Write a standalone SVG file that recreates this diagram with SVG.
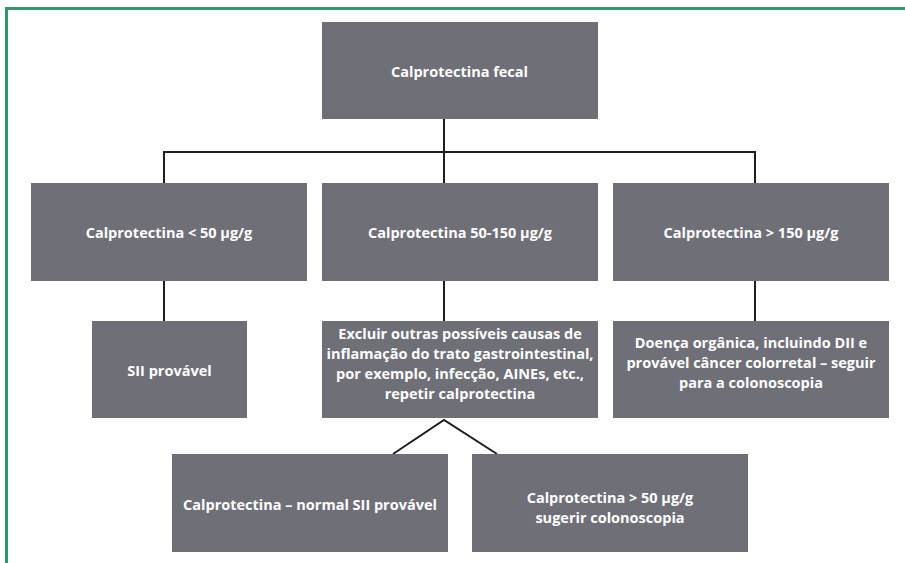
<svg xmlns="http://www.w3.org/2000/svg" width="905" height="563" viewBox="0 0 905 563">
<style>
.bx{fill:#6f6f77}
.t{font-family:"Open Sans","Noto Sans",sans-serif;font-weight:700;font-size:14.5px;fill:#ffffff;text-anchor:middle}
.c{stroke:#1e1e1e;stroke-width:2;fill:none}
</style>
<rect x="0" y="0" width="905" height="563" fill="#ffffff"/>
<path d="M6.5 563 V8.5 H905" fill="none" stroke="#2f9a66" stroke-width="3"/>
<g id="connectors">
<path class="c" d="M444 119 V152"/>
<path class="c" d="M164 183 V152 H755 V183"/>
<path class="c" d="M444 152 V183"/>
<path class="c" d="M164 281 V321"/>
<path class="c" d="M444 281 V321"/>
<path class="c" d="M755 281 V321"/>
<path class="c" d="M393 454 L444 420 L497 454"/>
</g>
<g id="n0"><rect class="bx" x="322" y="22" width="276" height="97"/><text class="t" x="459.5" y="77" textLength="137" lengthAdjust="spacingAndGlyphs">Calprotectina fecal</text></g>
<g id="n1"><rect class="bx" x="31" y="183" width="276" height="98"/><text class="t" x="169" y="237.5">Calprotectina &lt; 50 µg/g</text></g>
<g id="n2"><rect class="bx" x="322" y="183" width="276" height="98"/><text class="t" x="460" y="237.5">Calprotectina 50-150 µg/g</text></g>
<g id="n3"><rect class="bx" x="613" y="183" width="276" height="98"/><text class="t" x="751" y="237.5">Calprotectina &gt; 150 µg/g</text></g>
<g id="n4"><rect class="bx" x="92" y="321" width="155" height="97"/><text class="t" x="169.5" y="376">SII provável</text></g>
<g id="n5"><rect class="bx" x="322" y="321" width="276" height="97"/>
<text class="t" x="460" y="339">Excluir outras possíveis causas de</text>
<text class="t" x="460" y="359">inflamação do trato gastrointestinal,</text>
<text class="t" x="460" y="379">por exemplo, infecção, AINEs, etc.,</text>
<text class="t" x="460" y="398.5">repetir calprotectina</text></g>
<g id="n6"><rect class="bx" x="613" y="321" width="276" height="97"/>
<text class="t" x="751" y="348">Doença orgânica, incluindo DII e</text>
<text class="t" x="751" y="368">provável câncer colorretal – seguir</text>
<text class="t" x="751" y="388">para a colonoscopia</text></g>
<g id="n7"><rect class="bx" x="172" y="454" width="276" height="98"/><text class="t" x="310" y="509.5">Calprotectina – normal SII provável</text></g>
<g id="n8"><rect class="bx" x="472" y="454" width="276" height="98"/>
<text class="t" x="610" y="502.5">Calprotectina &gt; 50 µg/g</text>
<text class="t" x="610" y="522.5">sugerir colonoscopia</text></g>
</svg>
